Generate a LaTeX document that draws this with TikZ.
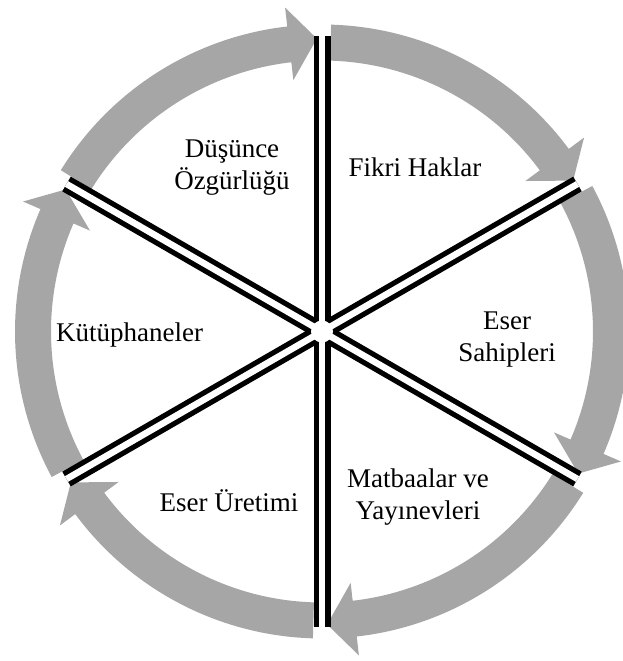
\documentclass[tikz,border=0pt]{standalone}
\usepackage{fontspec}
\setmainfont{Liberation Serif}
\usetikzlibrary{calc}
\definecolor{arrowgray}{RGB}{166,166,166}
\tikzset{
  seg/.style={fill=arrowgray, draw=none},
  spokeblack/.style={draw=black, line width=17pt, line cap=butt},
  spokegap/.style={draw=white, line width=6.5pt, line cap=butt},
  lbl/.style={font=\fontsize{27}{32}\selectfont, align=center, inner sep=0pt, text=black},
}
\newcommand{\cyclearrow}[1]{%
  \pgfmathsetmacro{\ta}{#1+60-1.7}%
  \pgfmathsetmacro{\ha}{#1+6.5}%
  \pgfmathsetmacro{\pa}{#1+1.0}%
  \fill[seg] (\ta:307pt) arc[start angle=\ta, end angle=\ha, radius=307pt]
    -- (\ha:326pt) -- (\pa:293pt) -- (\ha:253pt) -- (\ha:271pt)
    arc[start angle=\ha, end angle=\ta, radius=271pt] -- cycle;
}
\begin{document}
\begin{tikzpicture}
\useasboundingbox (-322pt,-329.5pt) rectangle (300pt,331.5pt);
\coordinate (c) at (0,0);
% gray cycle arrows
\foreach \b in {90,30,-30,-90,-150,150} {\cyclearrow{\b}}
% spokes
\foreach \a/\n in {90/s1,30/s2,-30/s3,-90/s4,-150/s5,150/s6} {
  \coordinate (\n) at (\a:295pt);
  \path[spokeblack] (c) -- (\n);
}
\foreach \n in {s1,s2,s3,s4,s5,s6} {
  \path[spokegap] (c) -- (\n);
}
\fill[white] (c) circle (11pt);
% labels
\node[lbl] (l1) at (-90pt,164pt) {Düşünce\\Özgürlüğü};
\node[lbl] (l2) at (93pt,164pt) {Fikri Haklar};
\node[lbl] (l3) at (185pt,-8pt) {Eser\\Sahipleri};
\node[lbl] (l4) at (96pt,-165.5pt) {Matbaalar ve\\Yayınevleri};
\node[lbl] (l5) at (-93pt,-169pt) {Eser Üretimi};
\node[lbl, anchor=west] (l6) at (-266pt,-4pt) {Kütüphaneler};
\end{tikzpicture}
\end{document}
